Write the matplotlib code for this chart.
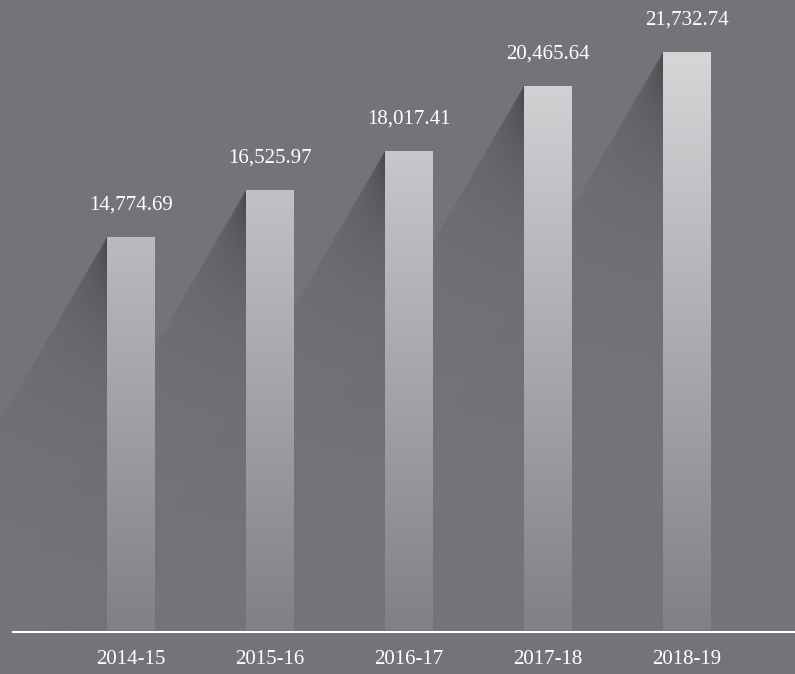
import numpy as np
import matplotlib
matplotlib.use("Agg")
import matplotlib.pyplot as plt
from matplotlib.patches import Polygon

years = ["2014-15", "2015-16", "2016-17", "2017-18", "2018-19"]
values = [14774.69, 16525.97, 18017.41, 20465.64, 21732.74]
labels = ["14,774.69", "16,525.97", "18,017.41", "20,465.64", "21,732.74"]

BG = "#737478"
TOP_RGB = np.array([213, 214, 216]) / 255
BOT_RGB = np.array([128, 129, 133]) / 255

W, H = 795, 674
fig = plt.figure(figsize=(W / 100, H / 100), dpi=100, facecolor=BG)
ax = fig.add_axes([0, 0, 1, 1])
ax.set_facecolor(BG)

# pixel scale: bars 139 px apart, baseline at 630 px from top
px_x = 139.0
px_y = (630 - 52) / max(values)
ax.set_xlim(-131 / px_x, (W - 131) / px_x)
ax.set_ylim(-(H - 630) / px_y, 630 / px_y)
ax.axis("off")

width = 48 / px_x
x = np.arange(len(years))
bars = ax.bar(x, values, width=width, color="none", edgecolor="none", zorder=3)

vmax = max(values)
for bar, v in zip(bars, values):
    xl = bar.get_x()
    xr = xl + bar.get_width()

    # shadow going down-left from the top corner
    slope = 0.58
    depth_max = v * px_y
    dx_units = slope * depth_max / px_x
    ny, nx = 300, 200
    gx = np.linspace(xl - dx_units, xl, nx)
    gy = np.linspace(0, v, ny)
    GX, GY = np.meshgrid(gx, gy)
    depth = (v - GY) * px_y
    horiz = (xl - GX) * px_x
    r = np.clip(horiz / (slope * depth + 1e-6), 0, 1)
    alpha = 0.42 * np.exp(-depth / 85) * (1 - 0.4 * r)
    rgba = np.zeros((ny, nx, 4))
    rgba[..., 3] = np.clip(alpha, 0, 1)
    poly = Polygon([(xl, v), (xl, 0), (xl - dx_units, 0)], closed=True,
                   facecolor="none", edgecolor="none", transform=ax.transData)
    ax.add_patch(poly)
    im = ax.imshow(rgba, extent=[xl - dx_units, xl, 0, v], origin="lower",
                   aspect="auto", zorder=1, interpolation="bilinear")
    im.set_clip_path(poly)

    # bar gradient
    t = np.linspace(0, v / vmax, 200)[:, None]
    grad = BOT_RGB[None, :] + (TOP_RGB - BOT_RGB)[None, :] * t
    grad = np.repeat(grad[:, None, :], 2, axis=1)
    im2 = ax.imshow(grad, extent=[xl, xr, 0, v], origin="lower",
                    aspect="auto", zorder=3, interpolation="bilinear")
    im2.set_clip_path(bar)

for xi, v, lab in zip(x, values, labels):
    ax.text(xi, v + 32 / px_y, lab, ha="center", va="center", color="white",
            fontsize=15, family="Liberation Serif", zorder=5)
    ax.text(xi, -(659 - 630) / px_y, years[xi], ha="center", va="center",
            color="white", fontsize=15, family="Liberation Serif", zorder=5)

ax.axhline(-1.5 / px_y, xmin=13 / W, xmax=1, color="white", lw=1.5, zorder=4)

fig.savefig("out.png", dpi=100, facecolor=BG)
